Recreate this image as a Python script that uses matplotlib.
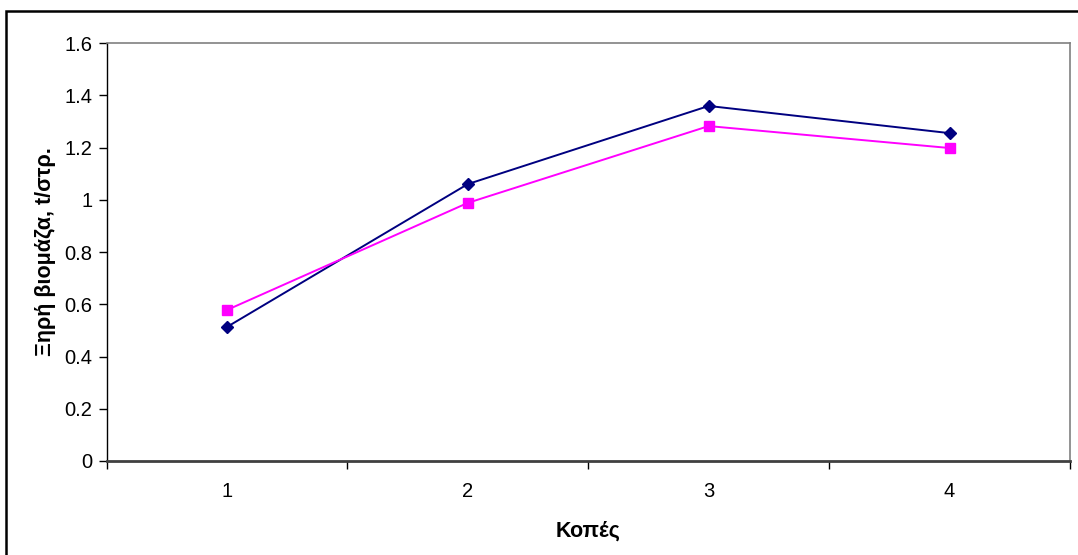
import matplotlib
matplotlib.use("Agg")
import matplotlib.pyplot as plt
from matplotlib.patches import Rectangle

plt.rcParams['font.family'] = ['Liberation Sans', 'DejaVu Sans']

cuts = [1, 2, 3, 4]
series_a = [0.513, 1.060, 1.359, 1.255]   # navy, diamonds
series_b = [0.578, 0.988, 1.282, 1.198]   # magenta, squares
yticks = [0, 0.2, 0.4, 0.6, 0.8, 1, 1.2, 1.4, 1.6]
ytick_labels = ["0", "0.2", "0.4", "0.6", "0.8", "1", "1.2", "1.4", "1.6"]

fig = plt.figure(figsize=(10.78, 5.55), dpi=100)
ax = fig.add_axes([106.5 / 1078, 94 / 555, (1070 - 106.5) / 1078, (461 - 43) / 555])

ax.plot(cuts, series_a, color="#000080", lw=1.4, marker="D", ms=6.5, zorder=3)
ax.plot(cuts, series_b, color="#FF00FF", lw=1.4, marker="s", ms=7, zorder=3)

ax.set_xlim(0.5, 4.5)
ax.set_ylim(0, 1.6)
ax.set_yticks(yticks)
ax.set_yticklabels(ytick_labels)
ax.set_xticks(cuts)
ax.set_xticks([0.5, 1.5, 2.5, 3.5, 4.5], minor=True)
ax.tick_params(axis="x", which="major", length=0, pad=15, labelsize=14.5)
ax.tick_params(axis="x", which="minor", length=6, width=1, color="#000000", direction="out")
ax.tick_params(axis="y", length=6, width=1, labelsize=14.5, pad=4)

for side in ("top", "right"):
    ax.spines[side].set_color("#808080")
    ax.spines[side].set_linewidth(1.2)
ax.spines["left"].set_color("#000000")
ax.spines["left"].set_linewidth(1)
ax.spines["bottom"].set_color("#404040")
ax.spines["bottom"].set_linewidth(2)

ax.set_ylabel("Ξηρή βιομάζα, t/στρ.", fontsize=15.5, fontweight="bold", labelpad=6)
ax.set_xlabel("Κοπές", fontsize=15.5, fontweight="bold", labelpad=14)

# outer chart border
fig.patches.append(Rectangle((5.5 / 1078, -0.05), 1.2, (555 - 10.5) / 555 + 0.05,
                             transform=fig.transFigure, fill=False,
                             edgecolor="black", lw=1.8))

fig.savefig("out.png", dpi=100)
